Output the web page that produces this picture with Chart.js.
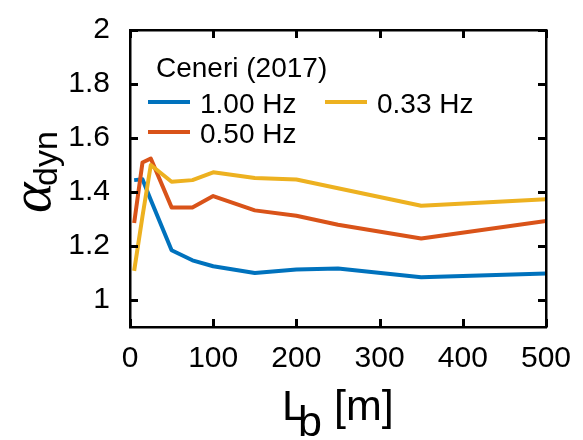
<!DOCTYPE html>
<html>
<head>
<meta charset="utf-8">
<script src="https://cdn.jsdelivr.net/npm/chart.js@4/dist/chart.umd.min.js"></script>
<style>
  html, body { margin: 0; padding: 0; background: #fff; }
  #wrap { width: 583px; height: 440px; }
</style>
</head>
<body>
<div id="wrap"><canvas id="c" width="583" height="440"></canvas></div>
<script>
// === data ===
const lengths = [5, 15, 25, 50, 75, 100, 150, 200, 250, 350, 500];
const alpha100 = [1.444, 1.447, 1.37, 1.184, 1.147, 1.125, 1.100, 1.113, 1.117, 1.084, 1.098];
const alpha050 = [1.285, 1.509, 1.524, 1.343, 1.343, 1.385, 1.332, 1.312, 1.279, 1.228, 1.293];
const alpha033 = [1.108, 1.31, 1.500, 1.438, 1.444, 1.473, 1.452, 1.446, 1.414, 1.349, 1.373];
const seriesLabels = ["1.00 Hz", "0.50 Hz", "0.33 Hz"];
const legendTitle = "Ceneri (2017)";
const xTicks = [0, 100, 200, 300, 400, 500];
const yTicks = [1, 1.2, 1.4, 1.6, 1.8, 2];

const FONT = "'Liberation Sans', Arial, sans-serif";
const colors = ["#0072BD", "#D95319", "#EDB120"];

function pts(ys) {
  return lengths.map((x, i) => ({ x: x, y: ys[i] }));
}

// box, inward ticks, legend and axis titles
const decor = {
  id: "decor",
  afterDraw(chart) {
    const ctx = chart.ctx;
    const a = chart.chartArea;
    const xs = chart.scales.x, ys = chart.scales.y;
    ctx.save();
    ctx.fillStyle = "#000";
    // frame
    ctx.fillRect(a.left - 1, a.top - 1, a.width + 2, 2.5);
    ctx.fillRect(a.left - 1, a.bottom - 1, a.width + 2, 2.5);
    ctx.fillRect(a.left - 1, a.top - 1, 2.5, a.height + 2);
    ctx.fillRect(a.right - 1, a.top - 1, 2.5, a.height + 2);
    // ticks pointing in
    xTicks.forEach(v => {
      const px = Math.round(xs.getPixelForValue(v));
      ctx.fillRect(px - 1, a.bottom - 8, 3, 8);
      ctx.fillRect(px - 1, a.top, 3, 8);
    });
    yTicks.forEach(v => {
      const py = Math.round(ys.getPixelForValue(v));
      ctx.fillRect(a.left, py - 1, 8, 3);
      ctx.fillRect(a.right - 8, py - 1, 8, 3);
    });

    // legend (2 columns, column-major like matlab)
    ctx.textBaseline = "alphabetic";
    ctx.textAlign = "left";
    ctx.font = "28px " + FONT;
    ctx.fillText(legendTitle, 156, 76.5);
    const slots = [[148, 113], [148, 143], [325, 113]];
    chart.data.datasets.forEach((ds, i) => {
      const [lx, by] = slots[i];
      ctx.strokeStyle = ds.borderColor;
      ctx.lineWidth = 4;
      ctx.lineCap = "butt";
      ctx.beginPath();
      ctx.moveTo(lx, by - 11); ctx.lineTo(lx + 42, by - 11);
      ctx.stroke();
      ctx.fillText(ds.label, lx + 52, by);
    });

    // x title: L_b [m]
    ctx.font = "43px " + FONT;
    ctx.fillText("L", 282, 420);
    ctx.fillText("b", 298, 436);
    ctx.fillText("[m]", 334, 420);

    // y title: alpha_dyn
    ctx.translate(50, 213);
    ctx.rotate(-Math.PI / 2);
    ctx.font = "italic 58px 'Liberation Serif', 'DejaVu Serif', serif";
    ctx.fillText("\u03B1", 0, 0);
    ctx.font = "34px " + FONT;
    ctx.fillText("dyn", 27, 7);
    ctx.restore();
  }
};

new Chart(document.getElementById("c"), {
  type: "line",
  data: {
    datasets: [
      { label: seriesLabels[0], data: pts(alpha100), borderColor: colors[0], order: 2 },
      { label: seriesLabels[1], data: pts(alpha050), borderColor: colors[1], order: 1 },
      { label: seriesLabels[2], data: pts(alpha033), borderColor: colors[2], order: 0 }
    ]
  },
  options: {
    responsive: false,
    animation: false,
    layout: { padding: { top: 16, right: 37, left: 0, bottom: 0 } },
    elements: {
      line: { borderWidth: 4, tension: 0, fill: false, borderJoinStyle: "round" },
      point: { radius: 0 }
    },
    plugins: { legend: { display: false }, tooltip: { enabled: false } },
    scales: {
      x: {
        type: "linear", min: 0, max: 500,
        afterBuildTicks: s => { s.ticks = xTicks.map(v => ({ value: v })); },
        afterFit: s => { s.height = 113; },
        grid: { display: false }, border: { display: false },
        ticks: { color: "#000", padding: 6, maxRotation: 0, font: { size: 30, family: FONT } }
      },
      y: {
        min: 0.9, max: 2,
        afterBuildTicks: s => { s.ticks = yTicks.map(v => ({ value: v })); },
        afterFit: s => { s.width = 130; },
        grid: { display: false }, border: { display: false },
        ticks: { color: "#000", padding: 12, callback: v => String(v), font: { size: 30, family: FONT } }
      }
    }
  },
  plugins: [decor]
});
</script>
</body>
</html>
